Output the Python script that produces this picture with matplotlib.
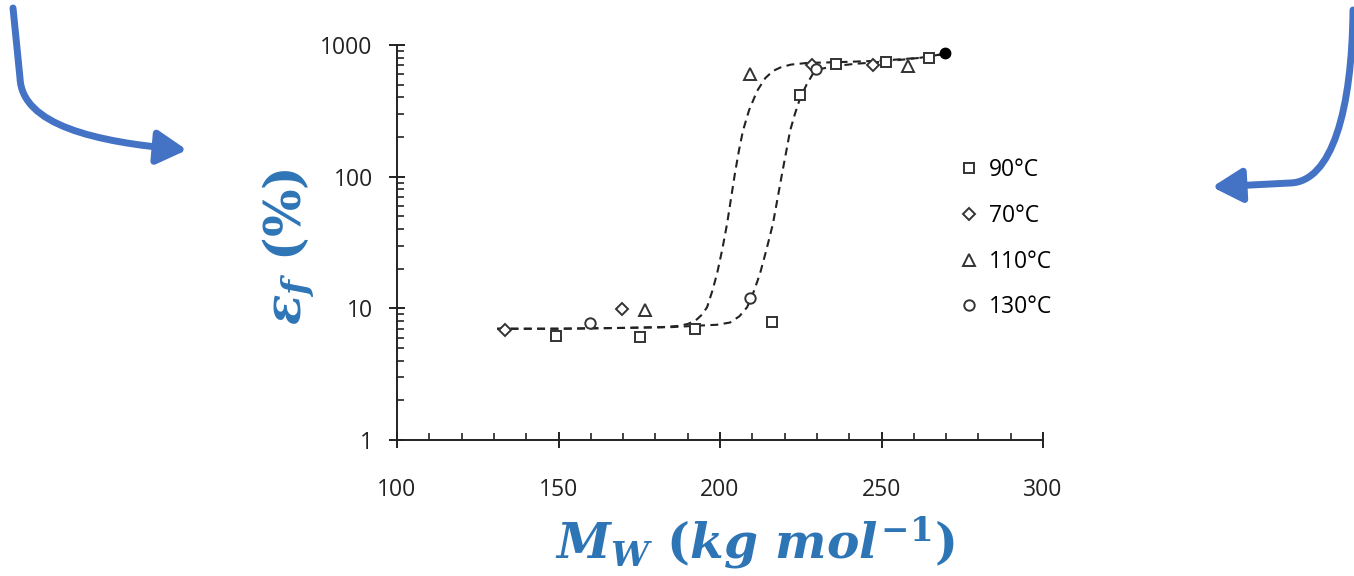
import matplotlib
matplotlib.use('Agg')
from matplotlib import pyplot
from matplotlib.path import Path
from matplotlib.patches import FancyArrowPatch
from matplotlib.ticker import LogLocator, MultipleLocator, FixedLocator, NullFormatter

W, H = 1354, 576

# measured points, Mw (kg/mol) vs elongation at break (%)
mw_90 = [149.2, 175.2, 192.3, 216.0, 224.8, 236.0, 251.4, 264.7]
ef_90 = [6.2, 6.1, 7.0, 7.9, 417, 716, 742, 795]
mw_70 = [133.4, 169.7, 228.5, 247.4]
ef_70 = [6.9, 9.8, 700, 700]
mw_110 = [176.8, 209.3, 258.2]
ef_110 = [9.7, 600, 690]
mw_130 = [159.8, 209.3, 229.7]
ef_130 = [7.7, 12.0, 656]
mw_extra = [269.7]
ef_extra = [870]

# dashed guide curves
curve_a_x = [131, 150, 170, 182, 187, 190, 192.5, 194.5, 196.0, 197.6, 199.1,
             200.7, 202.2, 203.4, 204.6, 205.8, 207.1, 209.0, 211.5, 214.0,
             216.4, 219, 222, 227, 236, 250, 262, 270]
curve_a_y = [7.0, 7.0, 7.1, 7.2, 7.35, 7.6, 8.1, 9.0, 10.2, 13.5, 18.4,
             28, 44, 68, 105, 155, 223, 320, 448, 560,
             635, 680, 710, 731, 740, 760, 800, 860]
curve_b_x = [131, 150, 170, 185, 193.8, 199, 203.1, 206, 208.4, 210.5, 212.4,
             214.4, 216.4, 217.8, 219.2, 220.5, 221.7, 223.2, 224.8, 226.8,
             228.8, 231.5, 235.0, 242, 250, 262, 270]
curve_b_y = [7.0, 7.0, 7.1, 7.2, 7.4, 7.5, 7.8, 8.7, 10.2, 13.5, 18.4,
             28, 44, 68, 105, 155, 223, 300, 394, 500,
             606, 660, 690, 720, 745, 800, 860]

legend_labels = ['90\u00b0C', '70\u00b0C', '110\u00b0C', '130\u00b0C']
x_ticks = [100, 150, 200, 250, 300]
y_ticks = [1, 10, 100, 1000]

pyplot.rcParams['font.family'] = ['Open Sans', 'DejaVu Sans']
pyplot.rcParams['mathtext.fontset'] = 'custom'
pyplot.rcParams['mathtext.it'] = 'DejaVu Serif:italic:bold'
pyplot.rcParams['mathtext.rm'] = 'DejaVu Serif:bold'
pyplot.rcParams['mathtext.bf'] = 'DejaVu Serif:italic:bold'

blue = '#2E75B6'
arrow_blue = '#4472C4'

fig = pyplot.figure(figsize=(W / 100, H / 100), dpi=100)
ax = fig.add_axes([397 / W, 1 - 440 / H, (1043 - 397) / W, (440 - 45) / H])

dash = (0, (3.8, 2.6))
ax.plot(curve_a_x, curve_a_y, color='#222222', lw=1.5, linestyle=dash, zorder=2)
ax.plot(curve_b_x, curve_b_y, color='#222222', lw=1.5, linestyle=dash, zorder=2)

mk = dict(linestyle='none', markerfacecolor='white', markeredgecolor='#333333',
          markeredgewidth=1.4, zorder=3)
ax.plot(mw_90, ef_90, marker='s', markersize=7.5, label=legend_labels[0], **mk)
ax.plot(mw_70, ef_70, marker='D', markersize=6.5, label=legend_labels[1], **mk)
ax.plot(mw_110, ef_110, marker='^', markersize=8.5, label=legend_labels[2], **mk)
ax.plot(mw_130, ef_130, marker='o', markersize=7.5, label=legend_labels[3], **mk)
ax.plot(mw_extra, ef_extra, marker='o', markersize=7.5, linestyle='none',
        color='black', zorder=3)

ax.set_yscale('log')
ax.set_xlim(100, 300)
ax.set_ylim(1, 1000)
ax.xaxis.set_major_locator(FixedLocator(x_ticks))
ax.xaxis.set_minor_locator(MultipleLocator(10))
ax.yaxis.set_major_locator(FixedLocator(y_ticks))
ax.yaxis.set_minor_locator(LogLocator(base=10, subs=range(2, 10)))
ax.yaxis.set_minor_formatter(NullFormatter())
ax.set_xticklabels([str(t) for t in x_ticks])
ax.set_yticklabels([str(t) for t in y_ticks])

for s in ['top', 'right']:
    ax.spines[s].set_visible(False)
for s in ['left', 'bottom']:
    ax.spines[s].set_linewidth(1.4)
    ax.spines[s].set_color('#222222')

ax.tick_params(which='major', direction='inout', length=11, width=1.4,
               labelsize=16.5, colors='#222222')
ax.tick_params(which='minor', direction='in', length=5, width=1.2,
               colors='#222222')
ax.tick_params(axis='x', which='major', pad=22)
ax.tick_params(axis='y', which='major', pad=12)

ax.legend(loc='upper left', bbox_to_anchor=((960 - 397) / (1043 - 397), (440 - 158) / (440 - 45)),
          frameon=False, fontsize=16.5, handlelength=0.8, handletextpad=0.45,
          labelspacing=0.95, borderpad=0, borderaxespad=0)

fig.text(288 / W, 1 - 247 / H, r'$\varepsilon_f\ (\%)$', color=blue, fontsize=36,
         rotation=90, ha='center', va='center')
fig.text(755 / W, 1 - 543 / H, r'$M_W\ (kg\ mol^{-1})$', color=blue, fontsize=35,
         ha='center', va='center')


def px(x, y):
    return (x / W, 1 - y / H)


left_path = Path([px(13, 8), px(20, 78), px(22, 125), px(95, 142), px(187, 150)],
                 [Path.MOVETO, Path.LINETO, Path.CURVE4, Path.CURVE4, Path.CURVE4])
right_path = Path([px(1353, 10), px(1352, 110), px(1332, 182), px(1290, 183), px(1212, 187)],
                  [Path.MOVETO, Path.CURVE4, Path.CURVE4, Path.CURVE4, Path.LINETO])
for p in [left_path, right_path]:
    arr = FancyArrowPatch(path=p, transform=fig.transFigure, color=arrow_blue,
                          arrowstyle='-|>,head_length=1.5,head_width=0.85', linewidth=5,
                          mutation_scale=12, shrinkA=0, shrinkB=0)
    fig.patches.append(arr)

fig.savefig('out.png', dpi=100)
